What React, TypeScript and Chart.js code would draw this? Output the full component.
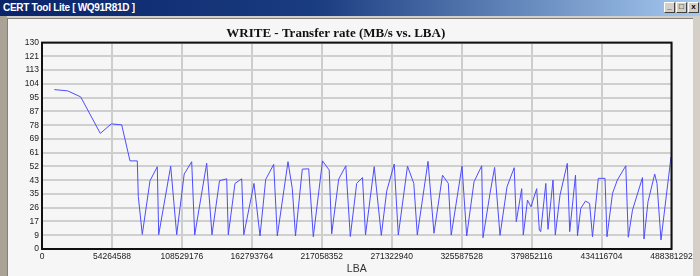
import React, { useEffect, useRef } from 'react';
import { Chart, registerables } from 'chart.js';

Chart.register(...registerables);

// LBA position of each sample
const lba = [
  9540000, 19940000, 30020000, 45230000, 53760000, 61830000, 68270000, 73940000, 74710000, 77810000,
  83790000, 89450000, 90540000, 99850000, 104500000, 110320000, 116140000, 118470000, 127780000, 131890000,
  137710000, 143290000, 144540000, 149730000, 154930000, 156560000, 164470000, 169130000, 173550000, 179760000,
  182550000, 190850000, 194190000, 196670000, 201950000, 206910000, 210480000, 217620000, 222820000, 224760000,
  230190000, 235700000, 239190000, 244150000, 248650000, 250980000, 257730000, 263240000, 267430000, 273250000,
  276430000, 283560000, 288450000, 291170000, 299470000, 304120000, 310720000, 315220000, 317470000, 325850000,
  329490000, 335160000, 341130000, 342140000, 347570000, 351140000, 355330000, 360760000, 366340000, 367970000,
  372160000, 373400000, 376660000, 379380000, 383800000, 385820000, 386900000, 390860000, 392570000, 396450000,
  398230000, 401880000, 407540000, 409400000, 413900000, 415450000, 418010000, 421660000, 424840000, 427090000,
  431590000, 436790000, 438340000, 442610000, 446330000, 452920000, 454860000, 458120000, 465880000, 467050000,
  470150000, 475350000, 477130000, 480230000, 488000000,
];

// Transfer rate, MB/s
const rate = [
  100.4, 99.6, 95.8, 72.8, 78.8, 78.2, 55.5, 55.5, 33, 9.2,
  43, 51.8, 9, 52.2, 9, 47.2, 55, 8.8, 54, 9,
  43, 44.2, 9, 41.3, 44.2, 9, 41.3, 8.2, 43.8, 53.3,
  8.2, 55, 38, 8.2, 50.3, 50.5, 7.7, 55.5, 49.7, 9.6,
  44, 52.4, 7.9, 41.3, 45, 8.8, 51.8, 8.6, 36.5, 53.5,
  8.8, 52.2, 41.3, 8.8, 55.2, 9.9, 46.5, 41.3, 8.8, 52.2,
  8.2, 42.3, 52.4, 7.1, 35, 51.4, 8.6, 39.2, 51.2, 17.2,
  38, 8.8, 30.8, 26.6, 38, 12, 10.9, 41.3, 12.4, 43.4,
  8.8, 34, 53.9, 10.9, 46.5, 8.4, 25.6, 30.2, 28.7, 7.7,
  44.5, 44.5, 7.7, 35, 43.4, 52.4, 7.4, 24.5, 45, 6.3,
  29.8, 47.2, 41.3, 5.7, 58,
];

const xTickValues = [
  0, 54264588, 108529176, 162793764, 217058352, 271322940, 325587528, 379852116, 434116704, 488381292,
];
const yTickLabels = ['0', '9', '17', '26', '35', '43', '52', '61', '69', '78', '87', '95', '104', '113', '121', '130'];
const Y_MAX = 130;

const titleText = 'WRITE - Transfer rate (MB/s vs. LBA)';
const windowTitle = 'CERT Tool Lite [ WQ91R81D ]';

export default function App() {
  const ref = useRef<HTMLCanvasElement>(null);

  useEffect(() => {
    if (!ref.current) return;
    const borderPlugin = {
      id: 'plotBorder',
      afterDraw(chart: any) {
        const { ctx, chartArea: a } = chart;
        ctx.save();
        ctx.strokeStyle = '#111';
        ctx.lineWidth = 2;
        ctx.strokeRect(a.left, a.top, a.right - a.left, a.bottom - a.top);
        ctx.restore();
      },
    };
    const tickFont = { family: '"Liberation Sans", Arial, sans-serif', size: 8.5 };
    const chart = new Chart(ref.current, {
      type: 'line',
      data: {
        datasets: [
          {
            data: lba.map((x, i) => ({ x, y: rate[i] })),
            borderColor: '#4d4dff',
            borderWidth: 1,
            pointRadius: 0,
            tension: 0,
            fill: false,
          },
        ],
      },
      options: {
        animation: false,
        responsive: false,
        maintainAspectRatio: false,
        layout: { padding: { left: 0, right: 28.5, top: 0, bottom: 0 } },
        plugins: {
          legend: { display: false },
          tooltip: { enabled: false },
          title: {
            display: true,
            text: titleText,
            font: { family: '"Liberation Serif", "Times New Roman", serif', size: 13, weight: 'bold' },
            color: '#111',
            padding: { top: 8, bottom: 1 },
          },
        },
        scales: {
          x: {
            type: 'linear',
            min: 0,
            max: xTickValues[xTickValues.length - 1],
            afterBuildTicks: (s: any) => {
              s.ticks = xTickValues.map((v) => ({ value: v }));
            },
            afterFit: (s: any) => {
              s.height = 27;
            },
            ticks: {
              callback: (v: any) => String(v),
              font: tickFont,
              color: '#222',
              maxRotation: 0,
              autoSkip: false,
              padding: 3,
            },
            grid: { color: '#cdcdcd', lineWidth: 2, drawTicks: false },
            border: { display: false },
            title: {
              display: true,
              text: 'LBA',
              font: { family: '"Liberation Sans", Arial, sans-serif', size: 10.5 },
              color: '#333',
              padding: { top: 0, bottom: 1 },
            },
          },
          y: {
            min: 0,
            max: Y_MAX,
            afterBuildTicks: (s: any) => {
              s.ticks = yTickLabels.map((_, i) => ({ value: (i * Y_MAX) / (yTickLabels.length - 1) }));
            },
            afterFit: (s: any) => {
              s.width = 42;
            },
            ticks: {
              callback: (_v: any, i: number) => yTickLabels[i],
              font: tickFont,
              color: '#222',
              padding: 3,
              autoSkip: false,
            },
            grid: { color: '#cfcfcf', lineWidth: 2, drawTicks: false },
            border: { display: false },
          },
        },
      },
      plugins: [borderPlugin],
    } as any);
    return () => chart.destroy();
  }, []);

  return (
    <div
      style={{
        position: 'fixed',
        left: 0,
        top: 0,
        width: 700,
        height: 276,
        overflow: 'hidden',
        background: '#d4d0c8',
      }}
    >
      <div
        style={{
          position: 'absolute',
          left: 0,
          top: 0,
          width: 700,
          height: 16,
          background: 'linear-gradient(to right, #0a246a 0%, #1a3c80 45%, #a6caf0 100%)',
        }}
      >
        <span
          style={{
            position: 'absolute',
            left: 3,
            top: 2,
            color: '#fff',
            font: 'bold 10px "Liberation Sans", Arial, sans-serif',
            whiteSpace: 'nowrap',
            letterSpacing: -0.3,
          }}
        >
          {windowTitle}
        </span>
        {['_', '□', 'x'].map((c, i) => (
          <div
            key={i}
            style={{
              position: 'absolute',
              top: 2,
              left: 664 + i * 12,
              width: 11,
              height: 11,
              background: '#d4d0c8',
              borderTop: '1px solid #fff',
              borderLeft: '1px solid #fff',
              borderRight: '1px solid #404040',
              borderBottom: '1px solid #404040',
              boxSizing: 'border-box',
              font: 'bold 8px "Liberation Sans", Arial, sans-serif',
              color: '#000',
              textAlign: 'center',
              lineHeight: '8px',
            }}
          >
            {c}
          </div>
        ))}
      </div>
      <div style={{ position: 'absolute', left: 0, top: 16, width: 7, height: 260, background: '#a9a295' }} />
      <div
        style={{
          position: 'absolute',
          left: 7,
          top: 18,
          width: 686,
          height: 258,
          background: '#f6f6f6',
          borderLeft: '1px solid #808080',
          borderTop: '1px solid #808080',
          boxSizing: 'border-box',
        }}
      />
      <canvas ref={ref} width={700} height={258} style={{ position: 'absolute', left: 0, top: 18, width: 700, height: 258 }} />
    </div>
  );
}
